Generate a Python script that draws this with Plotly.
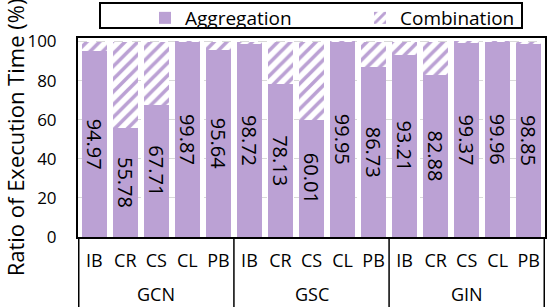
import plotly.graph_objects as go

models = ["GCN"] * 5 + ["GSC"] * 5 + ["GIN"] * 5
datasets = ["IB", "CR", "CS", "CL", "PB"] * 3
aggregation = [94.97, 55.78, 67.71, 99.87, 95.64,
               98.72, 78.13, 60.01, 99.95, 86.73,
               93.21, 82.88, 99.37, 99.96, 98.85]
combination = [round(100 - a, 2) for a in aggregation]
groups = ["GCN", "GSC", "GIN"]

PURPLE = "#BBA1D4"
FONT = "Open Sans"

W, H = 548, 307
ML, MR, MT, MB = 78, 3, 38, 70
PW, PH = W - ML - MR, H - MT - MB


def px_x(px):
    return (px - ML) / PW


def px_y(py):
    return (H - MB - py) / PH


keys = [f"{m}|{d}" for m, d in zip(models, datasets)]

fig = go.Figure()
fig.add_trace(go.Bar(
    x=keys, y=aggregation, name="Aggregation",
    marker=dict(color=PURPLE, line=dict(width=0)),
    text=[f"{v:.2f}" for v in aggregation], textposition="inside",
    insidetextanchor="middle", textangle=90,
    textfont=dict(family=FONT, size=20, color="black"),
))
fig.add_trace(go.Bar(
    x=keys, y=combination, name="Combination",
    marker=dict(color="white", line=dict(width=0),
                pattern=dict(shape="/", fgcolor=PURPLE, bgcolor="white",
                             size=9, solidity=0.4, fillmode="replace")),
))

# group labels and dividers
bounds = [-0.5]
for g in groups:
    idx = [i for i, m in enumerate(models) if m == g]
    mid = (idx[0] + idx[-1]) / 2
    bounds.append(idx[-1] + 0.5)
    fig.add_annotation(x=mid, xref="x", y=px_y(294), yref="paper",
                       text=g, showarrow=False, yanchor="middle",
                       font=dict(family=FONT, size=18, color="black"))
for b in bounds:
    fig.add_shape(type="line", xref="x", yref="paper", x0=b, x1=b,
                  y0=px_y(237), y1=px_y(308),
                  line=dict(color="black", width=1.5))

# legend frame
fig.add_shape(type="rect", xref="paper", yref="paper",
              x0=px_x(100), x1=px_x(522), y0=px_y(28), y1=px_y(3),
              line=dict(color="black", width=2), fillcolor="rgba(0,0,0,0)",
              layer="above")

fig.update_layout(
    barmode="stack", bargap=0.2,
    width=W, height=H,
    margin=dict(l=ML, r=MR, t=MT, b=MB, autoexpand=False),
    paper_bgcolor="white", plot_bgcolor="white",
    font=dict(family=FONT, size=18, color="black"),
    uniformtext=dict(minsize=20, mode="show"),
    showlegend=True,
    legend=dict(orientation="h", x=px_x(145), xanchor="left",
                y=px_y(-1), yanchor="top", traceorder="normal",
                borderwidth=0, entrywidth=170,
                font=dict(family=FONT, size=19), bgcolor="rgba(0,0,0,0)",
                itemwidth=30),
)
fig.update_yaxes(
    range=[0, 101.8], tickvals=[0, 20, 40, 60, 80, 100],
    showgrid=True, gridcolor="#D9D9D9", griddash="dash", gridwidth=1,
    showline=True, linecolor="black", linewidth=2, mirror=True,
    ticks="", zeroline=False, ticklabelstandoff=16,
    tickfont=dict(family=FONT, size=17),
    title=dict(text="Ratio of Execution Time (%)", font=dict(family=FONT, size=22), standoff=8),
)
fig.update_xaxes(
    type="category", tickvals=keys, ticktext=datasets,
    showline=True, linecolor="black", linewidth=2, mirror=True,
    ticks="", tickangle=0, tickfont=dict(family=FONT, size=18),
    ticklabelstandoff=6,
)

fig.write_html("out.html", post_script="document.body.style.margin='0';",
               config={"displayModeBar": False})
